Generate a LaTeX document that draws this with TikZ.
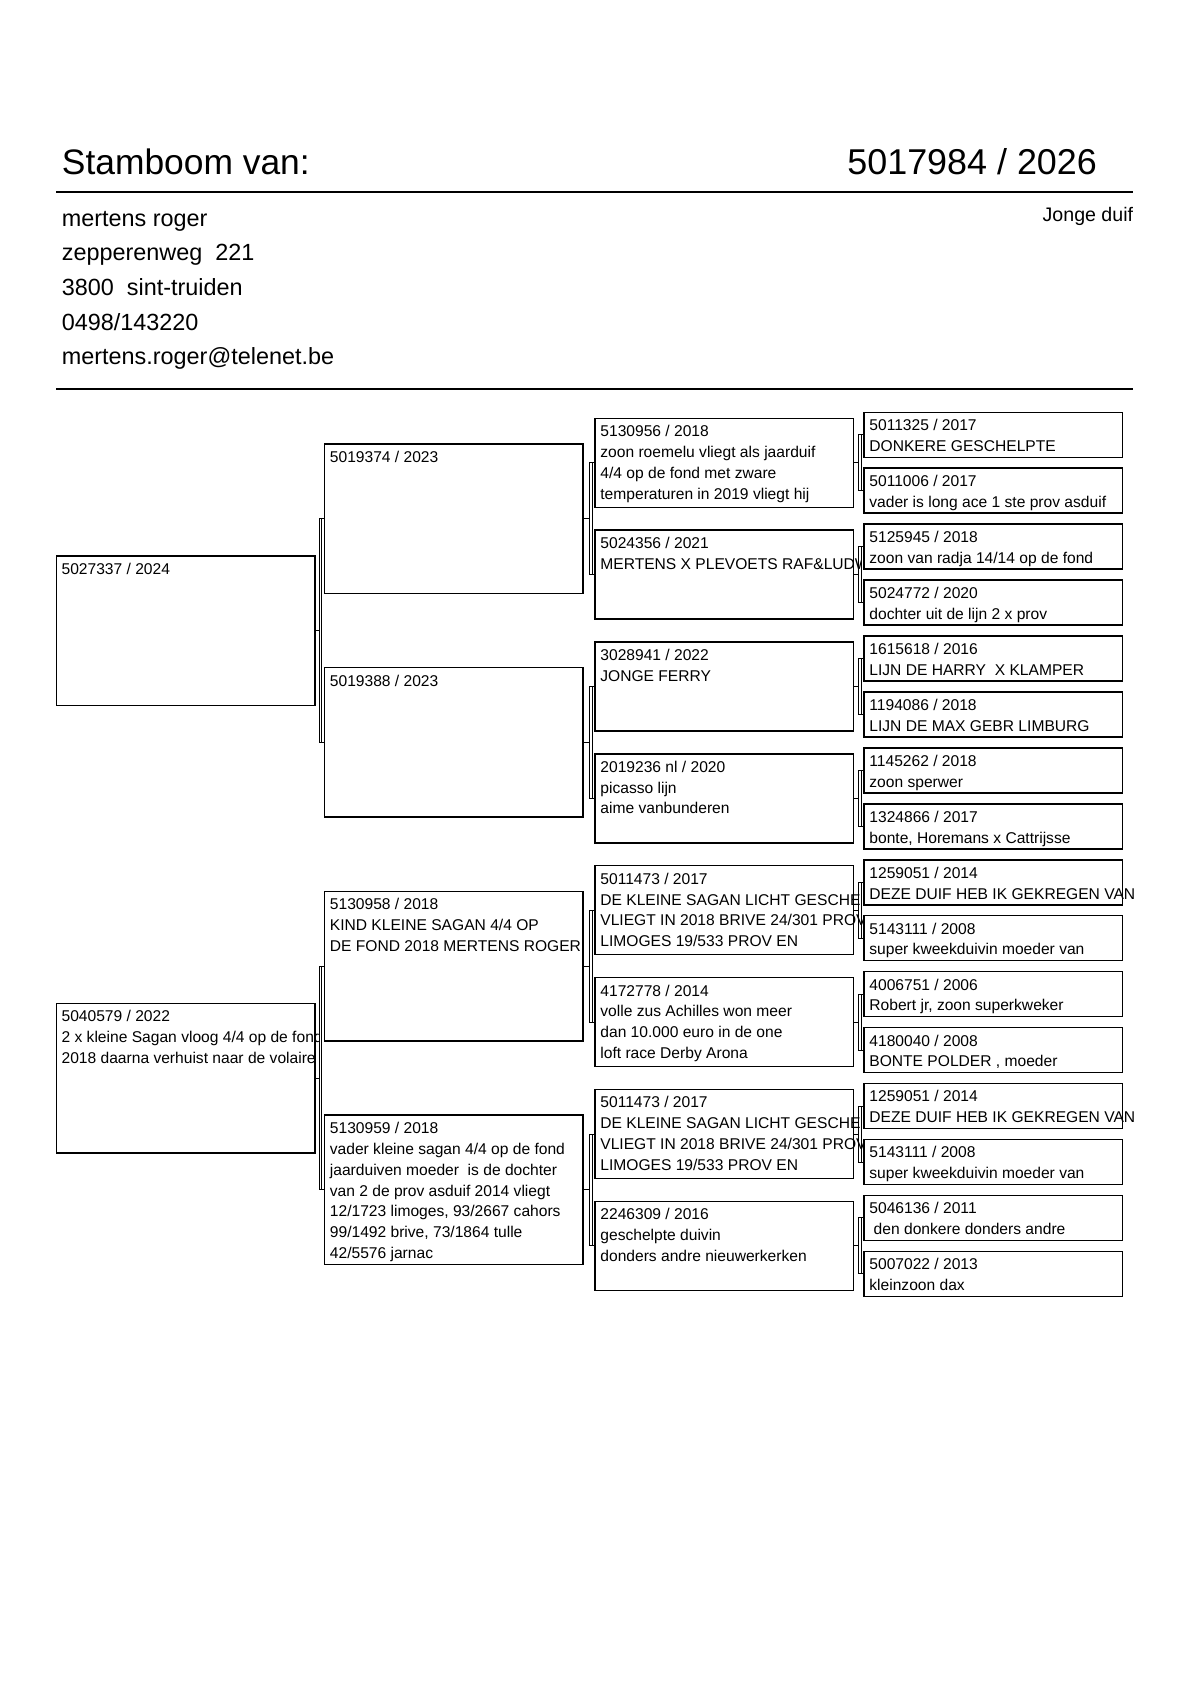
\documentclass[tikz,border=0pt]{standalone}
\usepackage{fontspec}
\setmainfont{Liberation Sans}
\usetikzlibrary{calc}
\tikzset{
  pbox/.style={draw, line width=0.75pt, fill=white, minimum width=129.25pt, inner sep=0pt, outer sep=0pt},
  hbig/.style={minimum height=74.75pt},
  hmid/.style={minimum height=44.5pt},
  hsml/.style={minimum height=22.5pt},
  conn/.style={line width=0.4pt},
  txt/.style={anchor=base west, inner sep=0pt, outer sep=0pt, font=\fontsize{7.8}{10.4}\selectfont},
  hdr/.style={anchor=base west, inner sep=0pt, font=\fontsize{11.7}{13}\selectfont},
  ttl/.style={anchor=base west, inner sep=0pt, font=\fontsize{17.7}{20}\selectfont},
  rule/.style={line width=0.9pt}
}
\newcommand\boxtext[3]{\node[txt] (#1) at ($(#2.north west)+(5.2,18.5)$) {\begin{tabular}[t]{@{}l@{}}#3\end{tabular}};}
\newcommand\boxtextclip[4]{\begin{scope}\clip ($(#2.north west)+(0,-2)$) rectangle ($(#2.south east)+(#4,0)$);\boxtext{#1}{#2}{#3}\end{scope}}
\newcommand\pbr[3]{%
  \coordinate (#1x1) at ($(#2.west)+(-5.8,0)$);
  \draw[conn] (#1x1) rectangle ($(#3.west)+(-3.3,0)$);
  \draw[conn] ($(#2.west)+(-3.3,0)$) -- (#2.west);
  \draw[conn] ($(#3.west)+(-3.3,0)$) -- (#3.west);
  \draw[conn] (#1.east) -- (#1.east -| #1x1);
}
\begin{document}
\begin{tikzpicture}[x=0.5pt, y=-0.5pt]
\useasboundingbox (0,0) rectangle (1190,1683);
\fill[white] (0,0) rectangle (1190,1683);

% header
\node[ttl] (title) at (61.5,174.3) {Stamboom van:};
\node[ttl, font=\fontsize{17.95}{20}\selectfont] (ring) at (847,174.3) {5017984 / 2026};
\coordinate (r1a) at (56,191.7);
\coordinate (r1b) at (1133,191.7);
\draw[rule] (r1a) -- (r1b);
\node[anchor=base east, inner sep=0pt, font=\fontsize{9.8}{12}\selectfont] (jd) at (1133.5,221.5) {Jonge duif};
\node[hdr] (a1) at (61.5,226) {mertens roger};
\node[hdr] (a2) at (61.5,260.7) {zepperenweg\ \ 221};
\node[hdr] (a3) at (61.5,295.4) {3800\ \ sint-truiden};
\node[hdr] (a4) at (61.5,330.1) {0498/143220};
\node[hdr] (a5) at (61.5,364.8) {mertens.roger@telenet.be};
\coordinate (r2a) at (56,389.3);
\coordinate (r2b) at (1133,389.3);
\draw[rule] (r2a) -- (r2b);

% generation 1
\node[pbox,hbig] (g1a) at (185.65,630.56) {};
\node[pbox,hbig] (g1b) at (185.65,1078.0) {};
% generation 2
\node[pbox,hbig] (g2a) at (453.95,518.7) {};
\node[pbox,hbig] (g2b) at (453.95,742.42) {};
\node[pbox,hbig] (g2c) at (453.95,966.14) {};
\node[pbox,hbig] (g2d) at (453.95,1189.86) {};
% generation 3
\node[pbox,hmid] (g3a) at (724.45,462.77) {};
\node[pbox,hmid] (g3b) at (724.45,574.63) {};
\node[pbox,hmid] (g3c) at (724.45,686.49) {};
\node[pbox,hmid] (g3d) at (724.45,798.35) {};
\node[pbox,hmid] (g3e) at (724.45,910.21) {};
\node[pbox,hmid] (g3f) at (724.45,1022.07) {};
\node[pbox,hmid] (g3g) at (724.45,1133.93) {};
\node[pbox,hmid] (g3h) at (724.45,1245.79) {};
% generation 4
\node[pbox,hsml] (g4a) at (993.45,434.8) {};
\node[pbox,hsml] (g4b) at (993.45,490.73) {};
\node[pbox,hsml] (g4c) at (993.45,546.66) {};
\node[pbox,hsml] (g4d) at (993.45,602.59) {};
\node[pbox,hsml] (g4e) at (993.45,658.52) {};
\node[pbox,hsml] (g4f) at (993.45,714.45) {};
\node[pbox,hsml] (g4g) at (993.45,770.38) {};
\node[pbox,hsml] (g4h) at (993.45,826.31) {};
\node[pbox,hsml] (g4i) at (993.45,882.24) {};
\node[pbox,hsml] (g4j) at (993.45,938.17) {};
\node[pbox,hsml] (g4k) at (993.45,994.1) {};
\node[pbox,hsml] (g4l) at (993.45,1050.03) {};
\node[pbox,hsml] (g4m) at (993.45,1105.96) {};
\node[pbox,hsml] (g4n) at (993.45,1161.89) {};
\node[pbox,hsml] (g4o) at (993.45,1217.82) {};
\node[pbox,hsml] (g4p) at (993.45,1273.75) {};

% brackets
\pbr{g1a}{g2a}{g2b}
\pbr{g1b}{g2c}{g2d}
\pbr{g2a}{g3a}{g3b}
\pbr{g2b}{g3c}{g3d}
\pbr{g2c}{g3e}{g3f}
\pbr{g2d}{g3g}{g3h}
\pbr{g3a}{g4a}{g4b}
\pbr{g3b}{g4c}{g4d}
\pbr{g3c}{g4e}{g4f}
\pbr{g3d}{g4g}{g4h}
\pbr{g3e}{g4i}{g4j}
\pbr{g3f}{g4k}{g4l}
\pbr{g3g}{g4m}{g4n}
\pbr{g3h}{g4o}{g4p}

% texts
\boxtextclip{t1a}{g1a}{5027337 / 2024}{5}
\boxtextclip{t1b}{g1b}{5040579 / 2022\\2 x kleine Sagan vloog 4/4 op de fond\\2018 daarna verhuist naar de volaire}{5}
\boxtext{t2a}{g2a}{5019374 / 2023}
\boxtext{t2b}{g2b}{5019388 / 2023}
\boxtext{t2c}{g2c}{5130958 / 2018\\KIND KLEINE SAGAN 4/4 OP\\DE FOND 2018 MERTENS ROGER}
\boxtext{t2d}{g2d}{5130959 / 2018\\vader kleine sagan 4/4 op de fond\\jaarduiven moeder\ \ is de dochter\\van 2 de prov asduif 2014 vliegt\\12/1723 limoges, 93/2667 cahors\\99/1492 brive, 73/1864 tulle\\42/5576 jarnac}
\boxtextclip{t3a}{g3a}{5130956 / 2018\\zoon roemelu vliegt als jaarduif\\4/4 op de fond met zware\\temperaturen in 2019 vliegt hij}{9}
\boxtextclip{t3b}{g3b}{5024356 / 2021\\MERTENS X PLEVOETS RAF\&LUDW}{8}
\boxtextclip{t3c}{g3c}{3028941 / 2022\\JONGE FERRY}{9}
\boxtextclip{t3d}{g3d}{2019236 nl / 2020\\picasso lijn\\aime vanbunderen}{9}
\boxtextclip{t3e}{g3e}{5011473 / 2017\\DE KLEINE SAGAN LICHT GESCHE\\VLIEGT IN 2018 BRIVE 24/301 PROV\\LIMOGES 19/533 PROV EN}{9}
\boxtextclip{t3f}{g3f}{4172778 / 2014\\volle zus Achilles won meer\\dan 10.000 euro in de one\\loft race Derby Arona}{9}
\boxtextclip{t3g}{g3g}{5011473 / 2017\\DE KLEINE SAGAN LICHT GESCHE\\VLIEGT IN 2018 BRIVE 24/301 PROV\\LIMOGES 19/533 PROV EN}{9}
\boxtextclip{t3h}{g3h}{2246309 / 2016\\geschelpte duivin\\donders andre nieuwerkerken}{9}
\boxtext{t4a}{g4a}{5011325 / 2017\\DONKERE GESCHELPTE}
\boxtext{t4b}{g4b}{5011006 / 2017\\vader is long ace 1 ste prov asduif}
\boxtext{t4c}{g4c}{5125945 / 2018\\zoon van radja 14/14 op de fond}
\boxtext{t4d}{g4d}{5024772 / 2020\\dochter uit de lijn 2 x prov}
\boxtext{t4e}{g4e}{1615618 / 2016\\LIJN DE HARRY\ \ X KLAMPER}
\boxtext{t4f}{g4f}{1194086 / 2018\\LIJN DE MAX GEBR LIMBURG}
\boxtext{t4g}{g4g}{1145262 / 2018\\zoon sperwer}
\boxtext{t4h}{g4h}{1324866 / 2017\\bonte, Horemans x Cattrijsse}
\boxtext{t4i}{g4i}{1259051 / 2014\\DEZE DUIF HEB IK GEKREGEN VAN}
\boxtext{t4j}{g4j}{5143111 / 2008\\super kweekduivin moeder van}
\boxtext{t4k}{g4k}{4006751 / 2006\\Robert jr, zoon superkweker}
\boxtext{t4l}{g4l}{4180040 / 2008\\BONTE POLDER , moeder}
\boxtext{t4m}{g4m}{1259051 / 2014\\DEZE DUIF HEB IK GEKREGEN VAN}
\boxtext{t4n}{g4n}{5143111 / 2008\\super kweekduivin moeder van}
\boxtext{t4o}{g4o}{5046136 / 2011\\\ den donkere donders andre}
\boxtext{t4p}{g4p}{5007022 / 2013\\kleinzoon dax}
\end{tikzpicture}
\end{document}
